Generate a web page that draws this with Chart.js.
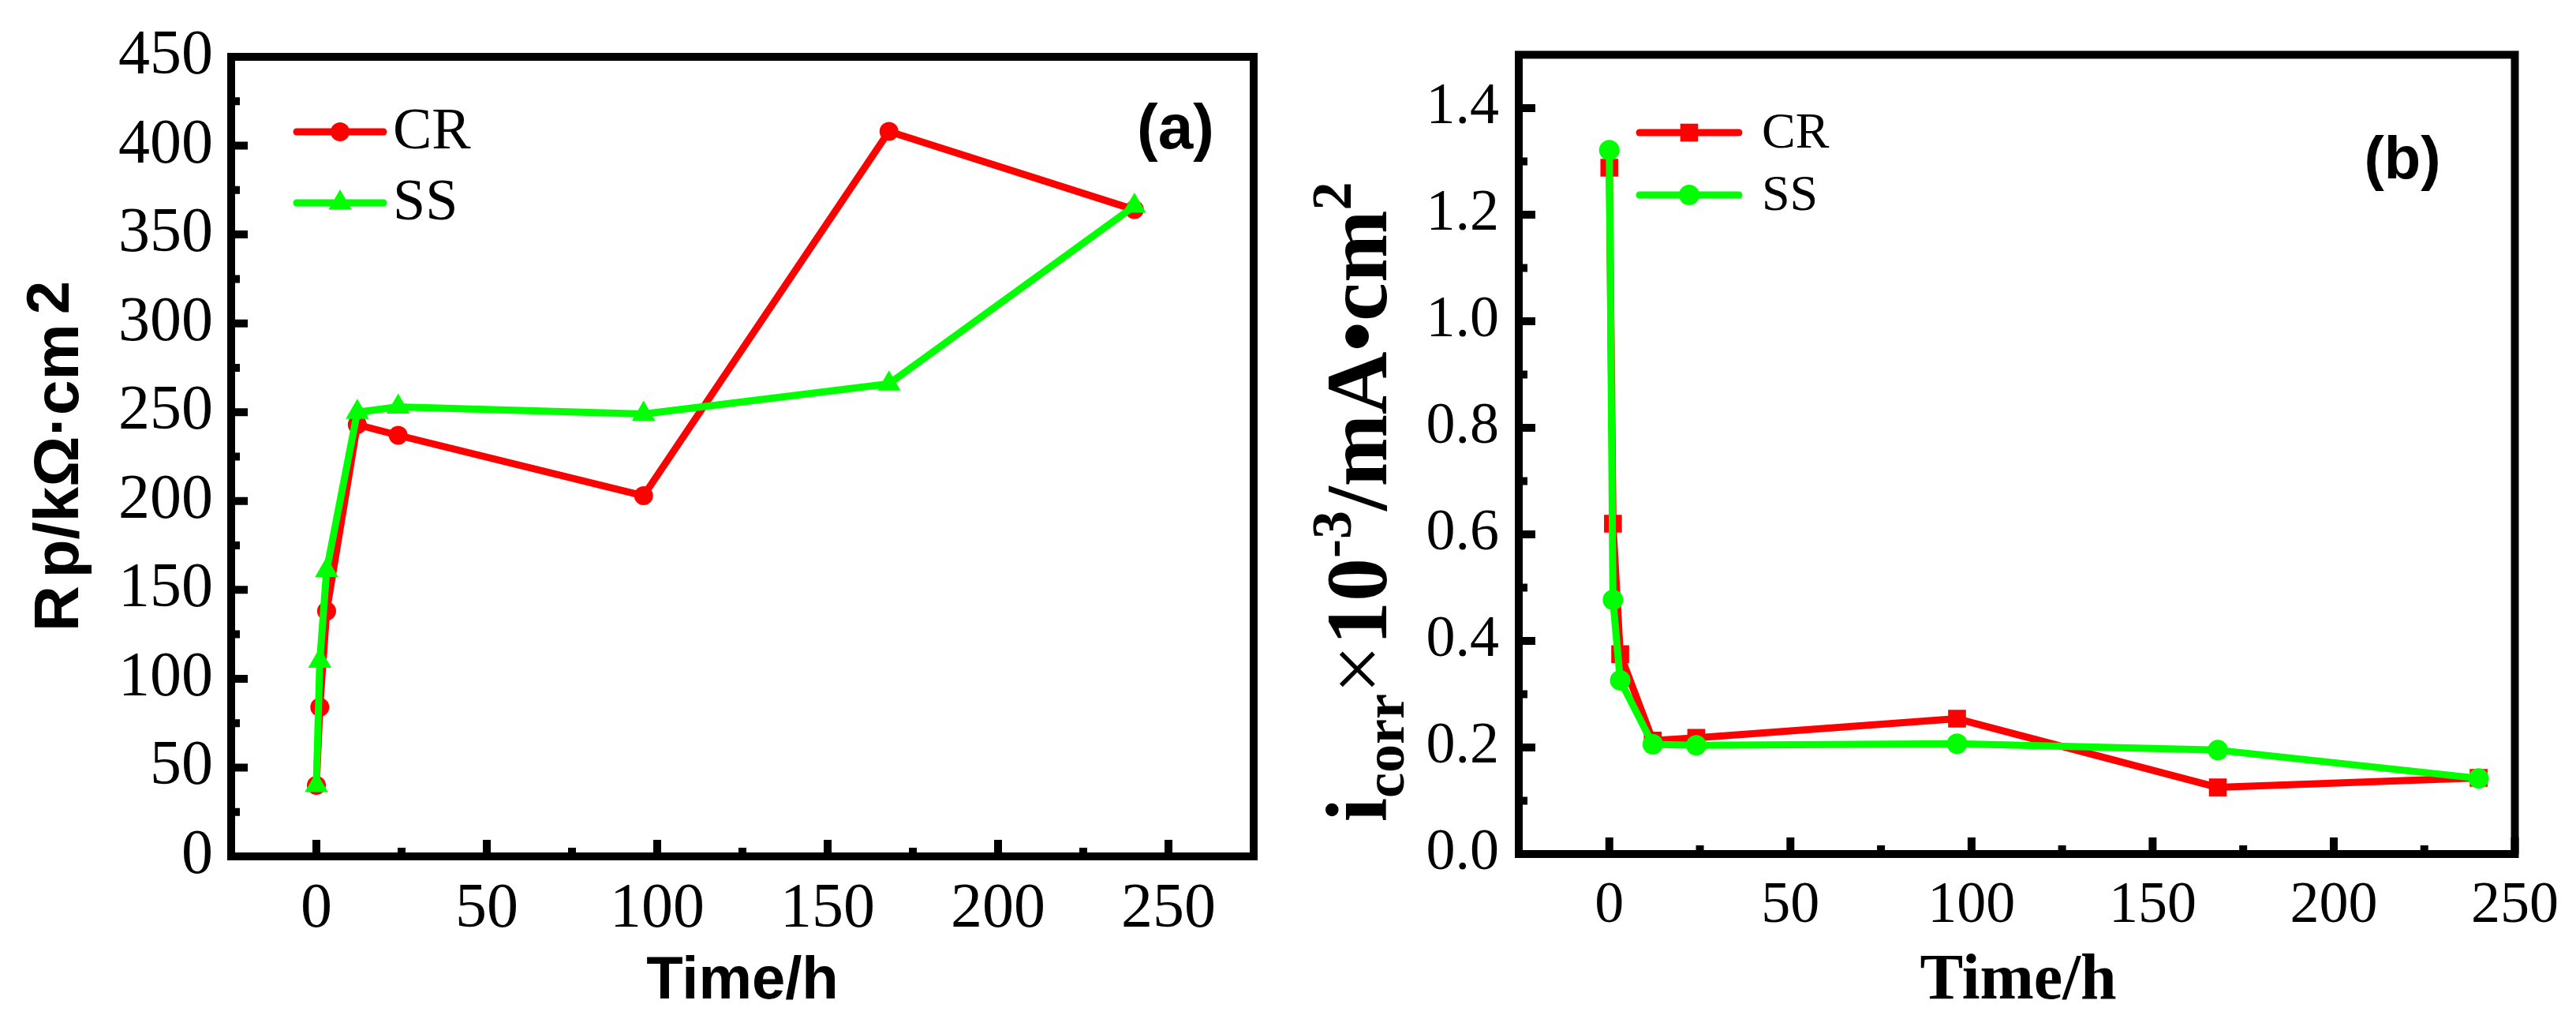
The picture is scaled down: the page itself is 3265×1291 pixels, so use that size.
<!DOCTYPE html>
<html>
<head>
<meta charset="utf-8">
<script src="https://cdn.jsdelivr.net/npm/chart.js@4.4.0/dist/chart.umd.min.js"></script>
<style>
html, body { margin: 0; padding: 0; background: #fff; }
#wrap { position: relative; width: 3265px; height: 1291px; }
canvas { position: absolute; top: 0; }
</style>
</head>
<body>
<div id="wrap">
  <canvas id="ca" width="1632" height="1291" style="left:0"></canvas>
  <canvas id="cb" width="1633" height="1291" style="left:1632px"></canvas>
</div>
<script>
// values (time in hours)
const hours = [0, 1, 3, 12, 24, 96, 168, 240];

// (a) polarisation resistance, kOhm cm2
const rpCR = [40, 84, 138, 243, 237, 203, 408, 364];
const rpSS = [40, 110, 161, 250, 253, 249, 266, 366];

// (b) corrosion current, 10^-3 mA/cm2
const icorrCR = [1.288, 0.620, 0.375, 0.213, 0.218, 0.254, 0.125, 0.143];
const icorrSS = [1.321, 0.477, 0.326, 0.206, 0.204, 0.207, 0.195, 0.142];

// tick labels
const timeTicksA = [0, 50, 100, 150, 200, 250];
const rpTicks = [0, 50, 100, 150, 200, 250, 300, 350, 400, 450];
const timeTicksB = [0, 50, 100, 150, 200, 250];
const icorrTicks = [0, 0.2, 0.4, 0.6, 0.8, 1.0, 1.2, 1.4];

const RED = '#ff0000';
const GREEN = '#00ff00';
const SERIF = "'Liberation Serif', 'Times New Roman', serif";
const SANS = "'Liberation Sans', Arial, sans-serif";

function pts(xs, ys) {
  return xs.map(function(x, i) { return { x: x, y: ys[i] }; });
}

function midpoints(ticks) {
  const out = [];
  for (let i = 0; i < ticks.length - 1; i++) out.push((ticks[i] + ticks[i + 1]) / 2);
  return out;
}

// box round the plot and inward ticks, placed with the chart's own scales
const framePlugin = {
  id: 'frame',
  afterDraw(chart) {
    const ctx = chart.ctx;
    const a = chart.chartArea;
    const xs = chart.scales.x, ys = chart.scales.y;
    ctx.save();
    ctx.strokeStyle = '#000';
    ctx.lineWidth = 10;
    ctx.lineCap = 'butt';
    ctx.beginPath();
    xs.ticks.forEach(function(t) {
      const px = xs.getPixelForValue(t.value);
      ctx.moveTo(px, a.bottom); ctx.lineTo(px, a.bottom - 21);
    });
    midpoints(xs.ticks.map(function(t) { return t.value; })).forEach(function(v) {
      const px = xs.getPixelForValue(v);
      ctx.moveTo(px, a.bottom); ctx.lineTo(px, a.bottom - 11);
    });
    ys.ticks.forEach(function(t) {
      const py = ys.getPixelForValue(t.value);
      ctx.moveTo(a.left, py); ctx.lineTo(a.left + 21, py);
    });
    const yv = ys.ticks.map(function(t) { return t.value; });
    midpoints(yv).concat([yv[yv.length - 1] + (yv[1] - yv[0]) / 2]).forEach(function(v) {
      if (v >= ys.max) return;
      const py = ys.getPixelForValue(v);
      ctx.moveTo(a.left, py); ctx.lineTo(a.left + 11, py);
    });
    ctx.stroke();
    ctx.lineCap = 'square';
    ctx.strokeRect(a.left, a.top, a.right - a.left, a.bottom - a.top);
    ctx.restore();
  }
};

function drawMarker(ctx, ds, x, y) {
  ctx.fillStyle = ds.backgroundColor;
  ctx.strokeStyle = ds.backgroundColor;
  if (Chart.helpers && Chart.helpers.drawPoint) {
    Chart.helpers.drawPoint(ctx, { pointStyle: ds.pointStyle, radius: ds.pointRadius, rotation: 0, borderWidth: 0 }, x, y);
    return;
  }
  const r = ds.pointRadius;
  ctx.beginPath();
  if (ds.pointStyle === 'rect') {
    const s = r * Math.SQRT1_2;
    ctx.rect(x - s, y - s, 2 * s, 2 * s);
  } else if (ds.pointStyle === 'triangle') {
    ctx.moveTo(x, y - r);
    ctx.lineTo(x + r * Math.sin(2 * Math.PI / 3), y - r * Math.cos(2 * Math.PI / 3));
    ctx.lineTo(x + r * Math.sin(4 * Math.PI / 3), y - r * Math.cos(4 * Math.PI / 3));
    ctx.closePath();
  } else {
    ctx.arc(x, y, r, 0, Math.PI * 2);
  }
  ctx.fill();
}

function drawLegend(chart, x0, x1, rows, textX, font) {
  const ctx = chart.ctx;
  ctx.save();
  chart.data.datasets.forEach(function(ds, i) {
    const y = rows[i];
    ctx.strokeStyle = ds.borderColor;
    ctx.lineWidth = ds.borderWidth;
    ctx.lineCap = 'round';
    ctx.beginPath();
    ctx.moveTo(x0, y); ctx.lineTo(x1, y);
    ctx.stroke();
    drawMarker(ctx, ds, (x0 + x1) / 2, y);
    ctx.fillStyle = '#000';
    ctx.font = font;
    ctx.textAlign = 'left';
    ctx.textBaseline = 'middle';
    ctx.fillText(ds.label, textX, y + 2);
  });
  ctx.restore();
}

// text pieces laid end to end, turned to read bottom-to-top
function drawRich(ctx, segs, baseX, centerY) {
  ctx.save();
  ctx.translate(baseX, centerY);
  ctx.rotate(-Math.PI / 2);
  ctx.fillStyle = '#000';
  ctx.textAlign = 'left';
  ctx.textBaseline = 'alphabetic';
  let w = 0;
  segs.forEach(function(s) {
    ctx.font = s.font;
    s.w = ctx.measureText(s.t).width + (s.gap || 0);
    w += s.w;
  });
  let x = -w / 2;
  segs.forEach(function(s) {
    ctx.font = s.font;
    ctx.fillText(s.t, x + (s.gap || 0), s.dy || 0);
    x += s.w;
  });
  ctx.restore();
}

function drawCentered(ctx, text, font, x, y) {
  ctx.save();
  ctx.fillStyle = '#000';
  ctx.font = font;
  ctx.textAlign = 'center';
  ctx.textBaseline = 'middle';
  ctx.fillText(text, x, y);
  ctx.restore();
}

function makeChart(id, opt) {
  const canvas = document.getElementById(id);
  const W = canvas.width, H = canvas.height;
  return new Chart(canvas, {
    type: 'scatter',
    data: { datasets: opt.datasets },
    options: {
      responsive: false,
      devicePixelRatio: 1,
      animation: false,
      events: [],
      layout: { padding: { left: 0, top: opt.area.top, right: W - opt.area.right, bottom: 0 } },
      plugins: { legend: { display: false }, tooltip: { enabled: false } },
      scales: {
        x: {
          type: 'linear',
          min: opt.xMin, max: opt.xMax,
          grid: { display: false, drawTicks: false },
          border: { display: false },
          afterBuildTicks: function(s) { s.ticks = opt.xTicks.map(function(v) { return { value: v }; }); },
          afterFit: function(s) { s.height = H - opt.area.bottom; },
          ticks: {
            color: '#000', padding: opt.xPad, maxRotation: 0, autoSkip: false,
            font: { family: SERIF, size: opt.tickSize }
          }
        },
        y: {
          type: 'linear',
          min: opt.yMin, max: opt.yMax,
          grid: { display: false, drawTicks: false },
          border: { display: false },
          afterBuildTicks: function(s) { s.ticks = opt.yTicks.map(function(v) { return { value: v }; }); },
          afterFit: function(s) { s.width = opt.area.left; },
          ticks: {
            color: '#000', padding: opt.yPad, autoSkip: false,
            font: { family: SERIF, size: opt.tickSize },
            callback: opt.yFmt
          }
        }
      }
    },
    plugins: [framePlugin, { id: 'decor', afterDraw: opt.decor }]
  });
}

// (a)
makeChart('ca', {
  area: { left: 293, top: 72, right: 1589, bottom: 1085 },
  xMin: -25, xMax: 275, yMin: 0, yMax: 450,
  xTicks: timeTicksA, yTicks: rpTicks,
  tickSize: 80, xPad: 20, yPad: 23,
  yFmt: function(v) { return String(v); },
  datasets: [{
    label: 'CR', data: pts(hours, rpCR),
    showLine: true, borderColor: RED, backgroundColor: RED, borderWidth: 9,
    borderJoinStyle: 'round', pointStyle: 'circle', pointRadius: 12, pointBorderWidth: 0, order: 1
  }, {
    label: 'SS', data: pts(hours, rpSS),
    showLine: true, borderColor: GREEN, backgroundColor: GREEN, borderWidth: 9,
    borderJoinStyle: 'round', pointStyle: 'triangle', pointRadius: 17, pointBorderWidth: 0, order: 0
  }],
  decor: function(chart) {
    const ctx = chart.ctx;
    drawLegend(chart, 376, 486, [167, 257], 498, '74px ' + SERIF);
    drawCentered(ctx, '(a)', 'bold 80px ' + SANS, 1490, 166);
    drawCentered(ctx, 'Time/h', 'bold 76px ' + SANS, 941, 1244);
    const f = 'bold 80px ' + SANS;
    drawRich(ctx, [
      { t: 'R', font: f },
      { t: 'p', font: f, gap: 10 },
      { t: '/k\u03A9\u00B7cm', font: f },
      { t: '2', font: 'bold 76px ' + SANS, gap: 12, dy: -12 }
    ], 99, 578);
  }
});

// (b)
makeChart('cb', {
  area: { left: 293, top: 61, right: 1560, bottom: 1082 },
  xMin: -25, xMax: 250, yMin: 0, yMax: 1.5,
  xTicks: timeTicksB, yTicks: icorrTicks,
  tickSize: 74, xPad: 22, yPad: 25,
  yFmt: function(v) { return v.toFixed(1); },
  datasets: [{
    label: 'CR', data: pts(hours, icorrCR),
    showLine: true, borderColor: RED, backgroundColor: RED, borderWidth: 9,
    borderJoinStyle: 'round', pointStyle: 'rect', pointRadius: 16, pointBorderWidth: 0, order: 1
  }, {
    label: 'SS', data: pts(hours, icorrSS),
    showLine: true, borderColor: GREEN, backgroundColor: GREEN, borderWidth: 9,
    borderJoinStyle: 'round', pointStyle: 'circle', pointRadius: 13, pointBorderWidth: 0, order: 0
  }],
  decor: function(chart) {
    const ctx = chart.ctx;
    drawLegend(chart, 446, 572, [168, 247], 601, '64px ' + SERIF);
    drawCentered(ctx, '(b)', 'bold 76px ' + SANS, 1413, 205);
    drawCentered(ctx, 'Time/h', 'bold 82px ' + SERIF, 926, 1244);
    const f = 'bold 110px ' + SERIF;
    const s = 'bold 72px ' + SERIF;
    drawRich(ctx, [
      { t: 'i', font: f },
      { t: 'corr', font: s, dy: 22 },
      { t: '\u00D7', font: '110px ' + SERIF },
      { t: '10', font: f },
      { t: '-3', font: s, dy: -45 },
      { t: '/mA', font: f },
      { t: '\u2022', font: f },
      { t: 'cm', font: f },
      { t: '2', font: s, dy: -45 }
    ], 125, 636);
  }
});
</script>
</body>
</html>
